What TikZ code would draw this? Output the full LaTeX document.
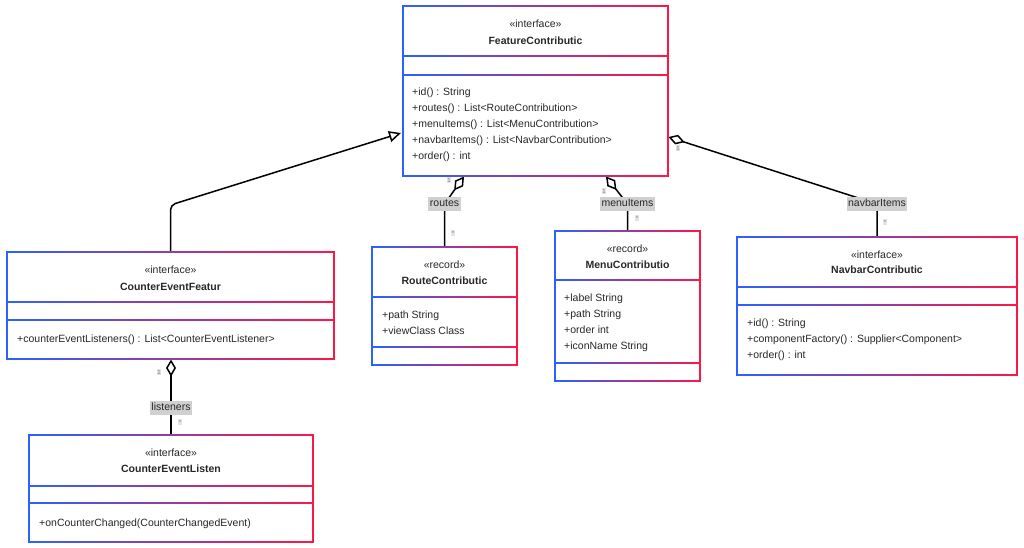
\documentclass[tikz,border=0pt]{standalone}
\usepackage{fontspec}
\setmainfont{Liberation Sans}
\usetikzlibrary{arrows.meta}
\definecolor{ublue}{RGB}{41,98,255}
\definecolor{ured}{RGB}{255,23,68}
\definecolor{txt}{RGB}{40,40,40}
\definecolor{lblbg}{RGB}{208,208,208}
\newcommand\gline[3]{\shade[left color=ublue,right color=ured] (#1,#3-0.75) rectangle (#2,#3+0.75);}
\newcommand\umlframe[6]{%
 \gline{#1}{#3}{#2}\gline{#1}{#3}{#4}\gline{#1}{#3}{#5}\gline{#1}{#3}{#6}%
 \fill[ublue] (#1-0.75,#2-0.75) rectangle (#1+0.75,#4+0.75);%
 \fill[ured] (#3-0.75,#2-0.75) rectangle (#3+0.75,#4+0.75);}
\begin{document}
\begin{tikzpicture}[x=1pt,y=-1pt,
  font=\fontsize{10.5}{12}\selectfont,
  boxnode/.style={draw=none,inner sep=0pt,outer sep=0pt,anchor=north west},
  st/.style={anchor=center,inner sep=0pt,text height=7.5pt,text depth=2.5pt,text=txt,yshift=-1.3pt},
  nm/.style={st,font=\fontsize{10.5}{12}\selectfont\bfseries},
  mb/.style={anchor=west,inner sep=0pt,text height=7.5pt,text depth=2.5pt,text=txt,yshift=-1.3pt},
  lbl/.style={fill=lblbg,inner sep=1.5pt,text height=8pt,text depth=2.5pt,text=txt},
  mult/.style={font=\fontsize{6}{7}\selectfont,fill=lblbg!60,inner sep=0.6pt,text=gray},
  conn/.style={draw=black,line width=1.5pt},
  agg/.style={conn,arrows={Diamond[open,length=17pt,width=10pt]-}},
  inh/.style={conn,rounded corners=5pt,arrows={-Triangle[open,length=12pt,width=11pt]}}]
\fill[white] (0,0) rectangle (1024,548);
\useasboundingbox (0,0) rectangle (1024,548);

% ---------- boxes ----------
\node[boxnode,minimum width=265pt,minimum height=170pt] (fc) at (403,6) {};
\node[boxnode,minimum width=327pt,minimum height=107pt] (cef) at (7,252) {};
\node[boxnode,minimum width=145pt,minimum height=118pt] (rc) at (372,247) {};
\node[boxnode,minimum width=145pt,minimum height=150pt] (mc) at (555,231) {};
\node[boxnode,minimum width=280pt,minimum height=138pt] (nc) at (737,237) {};
\node[boxnode,minimum width=284pt,minimum height=107pt] (cel) at (29,435) {};

% ---------- connectors ----------
\coordinate (fcL) at (401,133);
\coordinate (cefbend) at (170.5,205);
\draw[inh] (cef.north) -- (cefbend) -- (fcL);

\coordinate (fcRoute) at (464,176.5);
\coordinate (rbend) at (444.5,204);
\draw[agg] (fcRoute) -- (rbend) -- (rc.north);

\coordinate (fcMenu) at (606,176.5);
\coordinate (mbend) at (627.5,204);
\draw[agg] (fcMenu) -- (mbend) -- (mc.north);

\coordinate (fcNav) at (668.5,137);
\coordinate (nbend) at (877,204);
\draw[agg] (fcNav) -- (nbend) -- (nc.north);

\coordinate (cefL) at (171,359.5);
\coordinate (lbend) at (171,408);
\draw[agg] (cefL) -- (lbend) -- (cel.north);

% ---------- frames ----------
\umlframe{403}{6}{668}{176}{56}{75}
\umlframe{7}{252}{334}{359}{302}{320}
\umlframe{372}{247}{517}{365}{297}{347}
\umlframe{555}{231}{700}{381}{280}{363}
\umlframe{737}{237}{1017}{375}{287}{305}
\umlframe{29}{435}{313}{542}{486}{503}

% ---------- FeatureContribution ----------
\node[st] (fc-st) at (535.5,24) {«interface»};
\node[nm] (fc-nm) at (535.5,41) {FeatureContributic};
\node[mb] (fc-m1) at (412,92) {+id() : String};
\node[mb] (fc-m2) at (412,108) {+routes() : List<RouteContribution>};
\node[mb] (fc-m3) at (412,124) {+menuItems() : List<MenuContribution>};
\node[mb] (fc-m4) at (412,140) {+navbarItems() : List<NavbarContribution>};
\node[mb] (fc-m5) at (412,156) {+order() : int};

% ---------- CounterEventFeature ----------
\node[st] (cef-st) at (170.5,270) {«interface»};
\node[nm] (cef-nm) at (170.5,287) {CounterEventFeatur};
\node[mb] (cef-m1) at (17,339) {+counterEventListeners() : List<CounterEventListener>};

% ---------- RouteContribution ----------
\node[st] (rc-st) at (444.5,265) {«record»};
\node[nm] (rc-nm) at (444.5,281) {RouteContributic};
\node[mb] (rc-a1) at (382,315) {+path String};
\node[mb] (rc-a2) at (382,331) {+viewClass Class};

% ---------- MenuContribution ----------
\node[st] (mc-st) at (627.5,249) {«record»};
\node[nm] (mc-nm) at (627.5,265) {MenuContributio};
\node[mb] (mc-a1) at (564,298) {+label String};
\node[mb] (mc-a2) at (564,314) {+path String};
\node[mb] (mc-a3) at (564,330) {+order int};
\node[mb] (mc-a4) at (564,346) {+iconName String};

% ---------- NavbarContribution ----------
\node[st] (nc-st) at (877,255) {«interface»};
\node[nm] (nc-nm) at (877,270) {NavbarContributic};
\node[mb] (nc-m1) at (747,323) {+id() : String};
\node[mb] (nc-m2) at (747,339) {+componentFactory() : Supplier<Component>};
\node[mb] (nc-m3) at (747,355) {+order() : int};

% ---------- CounterEventListener ----------
\node[st] (cel-st) at (171,453) {«interface»};
\node[nm] (cel-nm) at (171,469) {CounterEventListen};
\node[mb] (cel-m1) at (39,523) {+onCounterChanged(CounterChangedEvent)};

% ---------- labels ----------
\node[lbl] (lroutes) at (rbend) {routes};
\node[lbl] (lmenu) at (mbend) {menuItems};
\node[lbl] (lnav) at (nbend) {navbarItems};
\node[lbl] (llis) at (lbend) {listeners};

% ---------- multiplicities ----------
\node[mult] (m-r1) at (449,180) {1};
\node[mult] (m-r2) at (453,233) {*};
\node[mult] (m-m1) at (604,191) {1};
\node[mult] (m-m2) at (637,218) {*};
\node[mult] (m-n1) at (678,148) {1};
\node[mult] (m-n2) at (885,222) {*};
\node[mult] (m-l1) at (159,372) {1};
\node[mult] (m-l2) at (180,422) {*};
\end{tikzpicture}
\end{document}
